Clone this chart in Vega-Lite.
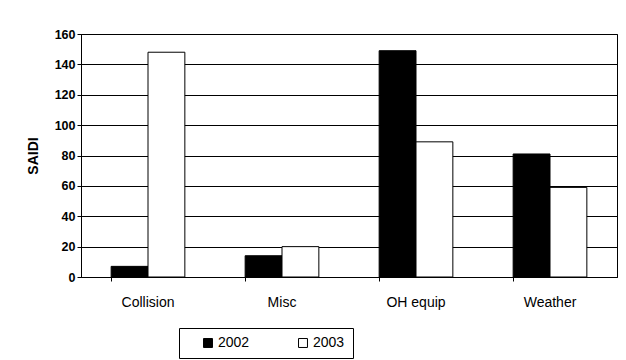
{
  "$schema": "https://vega.github.io/schema/vega-lite/v6.json",
  "autosize": {"type": "none"},
  "width": 536,
  "height": 243,
  "padding": {"left": 81, "top": 34, "right": 9, "bottom": 83},
  "background": "white",
  "data": {
    "values": [
      {"cause": "Collision", "year": "2002", "saidi": 7},
      {"cause": "Collision", "year": "2003", "saidi": 148},
      {"cause": "Misc", "year": "2002", "saidi": 14},
      {"cause": "Misc", "year": "2003", "saidi": 20},
      {"cause": "OH equip", "year": "2002", "saidi": 149},
      {"cause": "OH equip", "year": "2003", "saidi": 89},
      {"cause": "Weather", "year": "2002", "saidi": 81},
      {"cause": "Weather", "year": "2003", "saidi": 59}
    ]
  },
  "mark": {"type": "bar", "stroke": "black", "strokeWidth": 1},
  "encoding": {
    "x": {
      "field": "cause",
      "type": "nominal",
      "sort": null,
      "scale": {"paddingInner": 0.45, "paddingOuter": 0.225},
      "axis": {
        "title": null,
        "labelAngle": 0,
        "labelPadding": 14,
        "labelFont": "Liberation Sans",
        "labelFontSize": 14,
        "labelColor": "black",
        "domainColor": "black",
        "tickColor": "black",
        "bandPosition": 0,
        "tickSize": 4
      }
    },
    "xOffset": {"field": "year", "type": "nominal"},
    "y": {
      "field": "saidi",
      "type": "quantitative",
      "scale": {"domain": [0, 160]},
      "axis": {
        "title": "SAIDI",
        "titleFont": "Liberation Sans",
        "titleFontSize": 14,
        "titleFontWeight": "bold",
        "titleColor": "black",
        "titlePadding": 14,
        "values": [0, 20, 40, 60, 80, 100, 120, 140, 160],
        "labelFont": "Liberation Sans",
        "labelFontSize": 12.5,
        "labelFontWeight": "bold",
        "labelColor": "black",
        "domainColor": "black",
        "tickColor": "black",
        "tickSize": 4,
        "grid": true,
        "gridColor": "black",
        "gridOpacity": 1,
        "gridWidth": 1
      }
    },
    "fill": {
      "field": "year",
      "type": "nominal",
      "scale": {"domain": ["2002", "2003"], "range": ["black", "white"]},
      "legend": {
        "title": null,
        "orient": "none",
        "direction": "horizontal",
        "legendX": 98,
        "legendY": 294,
        "strokeColor": "black",
        "padding": 8,
        "symbolType": "square",
        "symbolSize": 80,
        "symbolOffset": 14,
        "symbolStrokeColor": "black",
        "symbolStrokeWidth": 1,
        "labelFont": "Liberation Sans",
        "labelFontSize": 14,
        "labelColor": "black",
        "columnPadding": 32,
        "labelOffset": 3
      }
    }
  },
  "config": {
    "view": {"stroke": "black", "strokeWidth": 1}
  }
}
